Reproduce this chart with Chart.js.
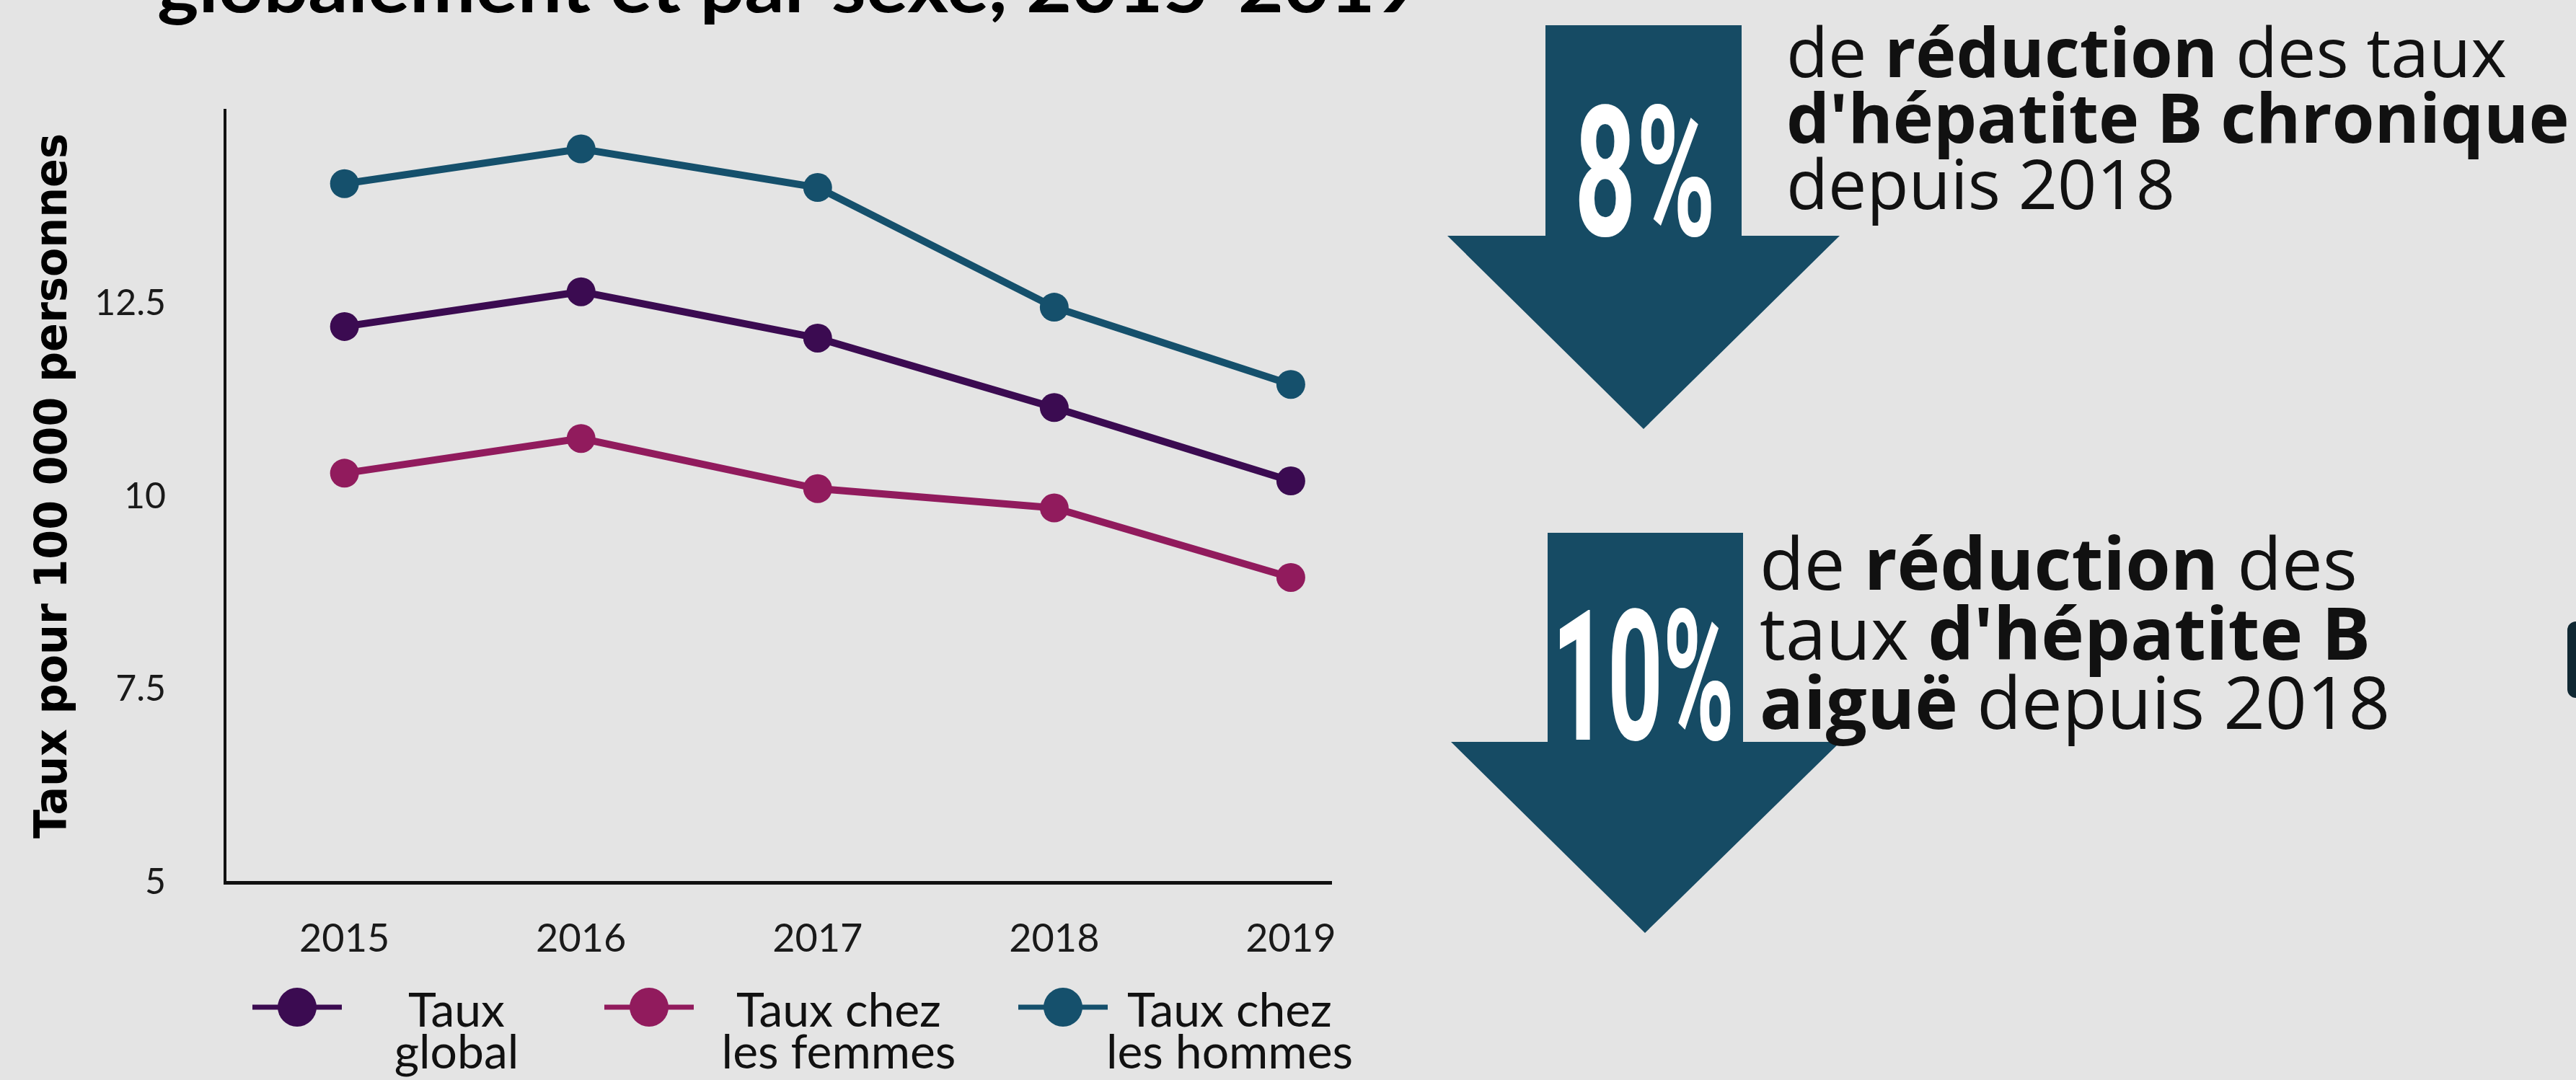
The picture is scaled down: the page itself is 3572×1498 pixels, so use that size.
<!DOCTYPE html>
<html lang="fr">
<head>
<meta charset="utf-8">
<title>Hépatite B</title>
<script src="https://cdn.jsdelivr.net/npm/chart.js@4.4.1/dist/chart.umd.min.js"></script>
<style>
    html, body { margin: 0; padding: 0; }
    body { width: 3572px; height: 1498px; background: #e4e4e4; overflow: hidden; position: relative; }
    #chart { position: absolute; left: 0; top: 0; }
    #overlay { position: absolute; left: 0; top: 0; }
</style>
</head>
<body>
<canvas id="chart" width="1900" height="1360"></canvas>
<svg id="overlay" width="3572" height="1498" xmlns="http://www.w3.org/2000/svg">
    <!-- titre coupé en haut -->
    <text x="218" y="17" font-family="Lato" font-weight="700" font-size="100" fill="#000"
          textLength="1752" lengthAdjust="spacingAndGlyphs">globalement et par sexe, 2015-2019</text>

    <!-- titre de l'axe y -->
    <text transform="translate(92,674) rotate(-90)" text-anchor="middle" font-family="DejaVu Sans"
          font-weight="700" font-size="62" fill="#000" textLength="978"
          lengthAdjust="spacingAndGlyphs">Taux pour 100 000 personnes</text>

    <g id="legend"></g>

    <!-- flèches -->
    <polygon fill="#164b64" points="2143,35 2415,35 2415,327 2551,327 2279,595 2007,327 2143,327"/>
    <polygon fill="#164b64" points="2146,739 2417,739 2417,1029 2552,1029 2281,1294 2012,1029 2146,1029"/>

    <text x="2183" y="327" font-family="Roboto" font-weight="700" font-size="253" fill="#fff"
          textLength="196" lengthAdjust="spacingAndGlyphs">8%</text>
    <text x="2152" y="1026" font-family="Roboto" font-weight="700" font-size="253" fill="#fff"
          textLength="253" lengthAdjust="spacingAndGlyphs">10%</text>

    <text font-family="Open Sans" font-size="95" fill="#111">
        <tspan x="2477" y="107">de <tspan font-weight="700">réduction</tspan> des taux</tspan>
        <tspan x="2477" y="198" font-weight="700">d'hépatite B chronique</tspan>
        <tspan x="2477" y="290">depuis 2018</tspan>
    </text>

    <text font-family="Open Sans" font-size="101" fill="#111">
        <tspan x="2440" y="818">de <tspan font-weight="700">réduction</tspan> des</tspan>
        <tspan x="2440" y="915">taux <tspan font-weight="700">d'hépatite B</tspan></tspan>
        <tspan x="2440" y="1011"><tspan font-weight="700">aiguë</tspan> depuis 2018</tspan>
    </text>

    <!-- bord d'un élément coupé à droite -->
    <rect x="3560" y="862" width="40" height="106" rx="12" fill="#102833"/>
</svg>
<script>
const years = [2015, 2016, 2017, 2018, 2019];
const tauxGlobal = [12.2, 12.65, 12.05, 11.15, 10.2];
const tauxFemmes = [10.3, 10.75, 10.1, 9.85, 8.95];
const tauxHommes = [14.05, 14.5, 14.0, 12.45, 11.45];
const yTicks = [5, 7.5, 10, 12.5];

const seriesNames = [["Taux", "global"], ["Taux chez", "les femmes"], ["Taux chez", "les hommes"]];
const seriesColors = ["#3b0b51", "#911b5d", "#15506c"];

// où placer chaque entrée de la légende (marqueur, texte)
const legendSlots = [
    { marker: 412, text: 633 },
    { marker: 900, text: 1163 },
    { marker: 1474, text: 1705 }
];

const datasets = [tauxGlobal, tauxFemmes, tauxHommes].map(function (values, i) {
    return {
        label: seriesNames[i].join(" "),
        data: values,
        borderColor: seriesColors[i],
        backgroundColor: seriesColors[i],
        pointBackgroundColor: seriesColors[i],
        pointBorderWidth: 0,
        borderWidth: 10,
        pointRadius: 20,
        tension: 0
    };
});

const ctx = document.getElementById("chart").getContext("2d");

new Chart(ctx, {
    type: "line",
    data: {
        labels: years,
        datasets: datasets
    },
    options: {
        responsive: false,
        devicePixelRatio: 1,
        animation: false,
        layout: { padding: { top: 153, right: 40, left: 0, bottom: 0 } },
        plugins: {
            legend: { display: false },
            tooltip: { enabled: false }
        },
        scales: {
            x: {
                type: "linear",
                min: 2014.495,
                max: 2019.172,
                afterBuildTicks: function (scale) {
                    scale.ticks = years.map(function (v) { return { value: v }; });
                },
                afterFit: function (scale) { scale.height = 136; },
                grid: { display: false, drawTicks: false },
                border: { display: true, color: "#111", width: 5 },
                ticks: {
                    padding: 46,
                    maxRotation: 0,
                    autoSkip: false,
                    color: "#1a1a1a",
                    font: { family: "Lato", size: 54 },
                    callback: function (v) { return String(v); }
                }
            },
            y: {
                min: 5,
                max: 15,
                afterBuildTicks: function (scale) {
                    scale.ticks = yTicks.map(function (v) { return { value: v }; });
                },
                afterFit: function (scale) { scale.width = 312; },
                grid: { display: false, drawTicks: false },
                border: { display: true, color: "#111", width: 4 },
                ticks: {
                    padding: 82,
                    color: "#1a1a1a",
                    font: { family: "Lato", size: 50 },
                    callback: function (v) { return String(v); }
                }
            }
        }
    }
});

// légende faite à la main (texte sur deux lignes)
const svgNS = "http://www.w3.org/2000/svg";
const legendGroup = document.getElementById("legend");
const legendY = 1397;

datasets.forEach(function (ds, i) {
    const slot = legendSlots[i];

    const line = document.createElementNS(svgNS, "line");
    line.setAttribute("x1", slot.marker - 62);
    line.setAttribute("x2", slot.marker + 62);
    line.setAttribute("y1", legendY);
    line.setAttribute("y2", legendY);
    line.setAttribute("stroke", ds.borderColor);
    line.setAttribute("stroke-width", 7);
    legendGroup.appendChild(line);

    const dot = document.createElementNS(svgNS, "circle");
    dot.setAttribute("cx", slot.marker);
    dot.setAttribute("cy", legendY);
    dot.setAttribute("r", 27);
    dot.setAttribute("fill", ds.borderColor);
    legendGroup.appendChild(dot);

    const label = document.createElementNS(svgNS, "text");
    label.setAttribute("text-anchor", "middle");
    label.setAttribute("font-family", "Lato");
    label.setAttribute("font-size", 66);
    label.setAttribute("fill", "#111");
    seriesNames[i].forEach(function (txt, k) {
        const t = document.createElementNS(svgNS, "tspan");
        t.setAttribute("x", slot.text);
        t.setAttribute("y", 1424 + k * 58);
        t.textContent = txt;
        label.appendChild(t);
    });
    legendGroup.appendChild(label);
});
</script>
</body>
</html>
